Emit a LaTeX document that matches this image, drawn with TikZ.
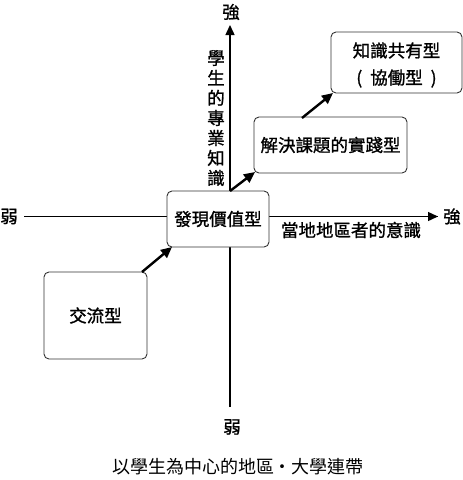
\documentclass[tikz,border=0pt]{standalone}
\usepackage{fontspec}
\setmainfont{Noto Sans CJK TC}
\newfontfamily\cjkb[FakeBold=1.2]{Noto Sans CJK TC}
\usetikzlibrary{arrows.meta}
\begin{document}
\begin{tikzpicture}[x=1pt,y=-1pt,
  box/.style={draw=black!80,line width=0.9pt,rounded corners=5pt,fill=white,inner sep=0pt,font=\cjkb\fontsize{17.5}{27}\selectfont,align=center},
  axis/.style={line width=1.4pt,-{Triangle[length=10pt,width=9pt]}},
  plain/.style={line width=1.4pt},
  flow/.style={line width=2.4pt,-{Triangle[length=11pt,width=10pt]}},
  lbl/.style={font=\cjkb\fontsize{17.5}{20}\selectfont,inner sep=0pt}]
\useasboundingbox (0,0) rectangle (463,480);
% axis end points
\coordinate (vtop) at (230,25);
\coordinate (vbot) at (230,407);
\coordinate (hleft) at (24,216.5);
\coordinate (hright) at (438,216.5);
\draw[plain] (vbot) -- (230,191);
\draw[axis] (230,191) -- (vtop);
\draw[plain] (hleft) -- (hright);
\draw[axis] (400,216.5) -- (hright);
% boxes
\node[box,minimum width=102pt,minimum height=56pt] (disc) at (218,219) {發現價值型};
\node[box,minimum width=103pt,minimum height=87pt] (exch) at (95.5,315.5) {交流型};
\node[box,minimum width=153pt,minimum height=56pt] (solve) at (330.5,145) {解決課題的實踐型};
\node[box,minimum width=131pt,minimum height=61pt] (share) at (396.5,62.5) {};
\node[font=\cjkb\fontsize{17.5}{27}\selectfont,align=center,inner sep=0pt] (sharetxt) at (396.5,65) {知識共有型\\(\hspace{8pt}協働型\hspace{8pt})};
% flows
\coordinate (f1s) at (142,272);
\coordinate (f1e) at (172,247);
\coordinate (f2s) at (230,191);
\coordinate (f2e) at (255,172);
\coordinate (f3s) at (302,118);
\coordinate (f3e) at (333,93);
\draw[flow] (f1s) -- (f1e);
\draw[flow] (f2s) -- (f2e);
\draw[flow] (f3s) -- (f3e);
% labels
\node[lbl] (stop) at (231,12) {強};
\node[lbl] (sright) at (452,216.5) {強};
\node[lbl] (wleft) at (9,216.5) {弱};
\node[lbl] (wbot) at (232,427) {弱};
\node[lbl] (hlabel) at (351,230) {當地地區者的意識};
\node[lbl,align=center] (vlabel) at (216,118) {學\\生\\的\\專\\業\\知\\識};
\node[inner sep=0pt,font=\fontsize{18}{20}\selectfont] (cap) at (238,467) {以學生為中心的地區・大學連帶};
\end{tikzpicture}
\end{document}
